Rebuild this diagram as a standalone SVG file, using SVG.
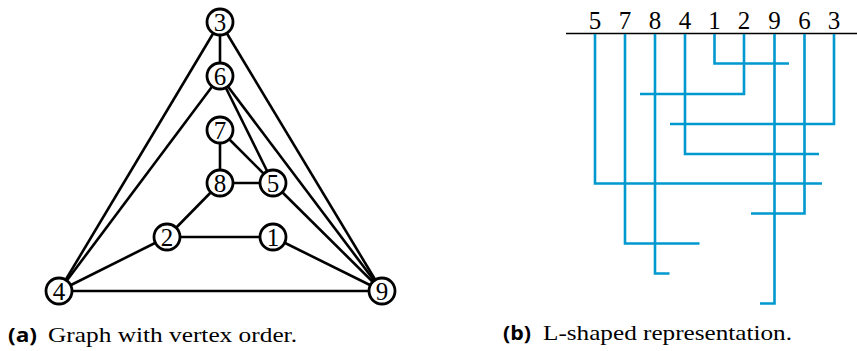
<svg xmlns="http://www.w3.org/2000/svg" width="857" height="351" viewBox="0 0 857 351">
<style>
.e{stroke:#000;stroke-width:2.6;fill:none}
.n circle{fill:#fff;stroke:#000;stroke-width:2.8}
.n text,.lab{font-family:"Liberation Serif",serif;font-size:25px;text-anchor:middle;fill:#000}
.L{stroke:#0099cf;stroke-width:2.6;fill:none}
.cap{font-family:"Liberation Serif",serif;font-size:21px;fill:#000}
.capb{font-family:"Open Sans","Liberation Sans",sans-serif;font-weight:bold;font-size:20px;fill:#000}
</style>
<rect width="857" height="351" fill="#fff"/>
<g id="edges">
<line class="e" x1="220" y1="22" x2="220" y2="76"/>
<line class="e" x1="220" y1="22" x2="59" y2="291"/>
<line class="e" x1="220" y1="22" x2="382" y2="291"/>
<line class="e" x1="220" y1="76" x2="59" y2="291"/>
<line class="e" x1="220" y1="76" x2="273" y2="183"/>
<line class="e" x1="220" y1="76" x2="382" y2="291"/>
<line class="e" x1="220" y1="130" x2="220" y2="183"/>
<line class="e" x1="220" y1="130" x2="273" y2="183"/>
<line class="e" x1="220" y1="183" x2="273" y2="183"/>
<line class="e" x1="220" y1="183" x2="167" y2="237"/>
<line class="e" x1="167" y1="237" x2="273" y2="237"/>
<line class="e" x1="167" y1="237" x2="59" y2="291"/>
<line class="e" x1="273" y1="237" x2="382" y2="291"/>
<line class="e" x1="273" y1="183" x2="382" y2="291"/>
<line class="e" x1="59" y1="291" x2="382" y2="291"/>
</g>
<g id="n3" class="n"><circle cx="220" cy="22" r="13"/><text x="220" y="30.5">3</text></g>
<g id="n6" class="n"><circle cx="220" cy="76" r="13"/><text x="220" y="84.5">6</text></g>
<g id="n7" class="n"><circle cx="220" cy="130" r="13"/><text x="220" y="138.5">7</text></g>
<g id="n8" class="n"><circle cx="220" cy="183" r="13"/><text x="220" y="191.5">8</text></g>
<g id="n5" class="n"><circle cx="273" cy="183" r="13"/><text x="273" y="191.5">5</text></g>
<g id="n2" class="n"><circle cx="167" cy="237" r="13"/><text x="167" y="245.5">2</text></g>
<g id="n1" class="n"><circle cx="273" cy="237" r="13"/><text x="273" y="245.5">1</text></g>
<g id="n4" class="n"><circle cx="59" cy="291" r="13"/><text x="59" y="299.5">4</text></g>
<g id="n9" class="n"><circle cx="382" cy="291" r="13"/><text x="382" y="299.5">9</text></g>
<g id="axis">
<line x1="566" y1="33.5" x2="857" y2="33.5" stroke="#000" stroke-width="1.6"/>
<text class="lab" x="595" y="28.5">5</text>
<text class="lab" x="625" y="28.5">7</text>
<text class="lab" x="655" y="28.5">8</text>
<text class="lab" x="685" y="28.5">4</text>
<text class="lab" x="714.5" y="28.5">1</text>
<text class="lab" x="744" y="28.5">2</text>
<text class="lab" x="774.5" y="28.5">9</text>
<text class="lab" x="804.5" y="28.5">6</text>
<text class="lab" x="834" y="28.5">3</text>
</g>
<g id="Ls">
<polyline class="L" points="714.5,34 714.5,63.5 789,63.5"/>
<polyline class="L" points="744,34 744,94 640,94"/>
<polyline class="L" points="834,34 834,124 670,124"/>
<polyline class="L" points="685,34 685,154 819,154"/>
<polyline class="L" points="595,34 595,183.5 822,183.5"/>
<polyline class="L" points="804.5,34 804.5,213.5 751,213.5"/>
<polyline class="L" points="625,34 625,243.5 699.5,243.5"/>
<polyline class="L" points="655,34 655,273.5 669.5,273.5"/>
<polyline class="L" points="774.5,34 774.5,303.5 760,303.5"/>
</g>
<g id="captions">
<text class="capb" x="8" y="342" textLength="29" lengthAdjust="spacingAndGlyphs">(a)</text>
<text class="cap" x="48" y="342" textLength="249" lengthAdjust="spacingAndGlyphs">Graph with vertex order.</text>
<text class="capb" x="503" y="340" textLength="28" lengthAdjust="spacingAndGlyphs">(b)</text>
<text class="cap" x="543" y="340" textLength="249" lengthAdjust="spacingAndGlyphs">L-shaped representation.</text>
</g>
</svg>
